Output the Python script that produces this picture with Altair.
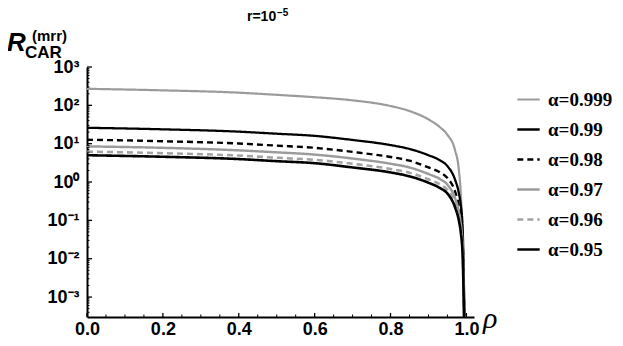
import altair as alt
import pandas as pd

# ---- data ----
rho = [0.0, 0.2, 0.4, 0.5, 0.6, 0.7, 0.8, 0.85, 0.9, 0.93, 0.95, 0.97, 0.98, 0.985, 0.99, 0.995]
r_a0999 = [270, 246, 214, 188, 163, 135, 96, 71, 43, 27, 17, 6.8, 2.1, 0.54, 0.027, 0.00027]
r_a099 = [26, 23.7, 20.6, 18.2, 16.0, 12.5, 9.2, 7.3, 5.0, 3.7, 2.6, 1.16, 0.52, 0.26, 0.065, 0.00026]
r_a098 = [12.7, 11.6, 10.1, 8.9, 7.8, 6.1, 4.5, 3.6, 2.4, 1.8, 1.27, 0.57, 0.25, 0.127, 0.032, 0.000127]
r_a097 = [8.5, 7.8, 6.7, 5.95, 5.2, 4.1, 3.0, 2.4, 1.62, 1.2, 0.85, 0.38, 0.17, 0.085, 0.021, 0.000085]
r_a096 = [6.2, 5.65, 4.9, 4.3, 3.8, 3.0, 2.2, 1.75, 1.18, 0.87, 0.62, 0.28, 0.124, 0.062, 0.0155, 0.000062]
r_a095 = [5.0, 4.56, 3.97, 3.5, 3.1, 2.4, 1.78, 1.41, 0.96, 0.70, 0.50, 0.22, 0.10, 0.05, 0.0125, 0.00005]

series_names = ["α=0.999", "α=0.99", "α=0.98", "α=0.97", "α=0.96", "α=0.95"]
series_values = [r_a0999, r_a099, r_a098, r_a097, r_a096, r_a095]
series_colors = ["#9b9b9b", "#000000", "#000000", "#9b9b9b", "#a3a3a3", "#000000"]
series_dash = [[1, 0], [1, 0], [6, 4], [1, 0], [6, 4], [1, 0]]
series_width = [2.2, 2.6, 2.6, 2.2, 2.2, 2.6]

x_major = [0.0, 0.2, 0.4, 0.6, 0.8, 1.0]
x_minor = [0.05, 0.1, 0.15, 0.25, 0.3, 0.35, 0.45, 0.5, 0.55, 0.65, 0.7, 0.75, 0.85, 0.9, 0.95]
y_major = [1e-3, 1e-2, 1e-1, 1, 10, 100, 1000]
y_labels = ["10⁻³", "10⁻²", "10⁻¹", "10⁰", "10¹", "10²", "10³"]
y_minor = [m * 10.0 ** k for k in range(-4, 3) for m in range(2, 10)]
y_minor = [v for v in y_minor if 10 ** -3.52 < v < 1000]

rows = []
for name, vals in zip(series_names, series_values):
    for x, v in zip(rho, vals):
        rows.append({"series": name, "rho": x, "R": v})
df = pd.DataFrame(rows)

xscale = alt.Scale(domain=[0, 1.02], nice=False, zero=False)
yscale = alt.Scale(type="log", domain=[10 ** -3.52, 1000], nice=False)

# label expression from lists
expr = "'" + y_labels[-1] + "'"
for v, lab in reversed(list(zip(y_major[:-1], y_labels[:-1]))):
    expr = f"datum.value < {v * 3} ? '{lab}' : " + expr

W, H = 387, 250
LBL_FONT = "Liberation Sans"
SERIF = "'Liberation Serif', 'DejaVu Serif', 'Times New Roman', serif"

legend = alt.Legend(
    title=None, orient="none", legendX=429, legendY=20,
    symbolType="stroke", symbolSize=500, symbolStrokeWidth=2.5,
    labelFont=SERIF, labelFontWeight="bold", labelFontSize=19,
    labelColor="black", rowPadding=7, labelOffset=7,
)

lines = alt.Chart(df).mark_line(clip=True, interpolate="monotone").encode(
    x=alt.X("rho:Q", scale=xscale, axis=alt.Axis(
        values=x_major, format=".1f", ticks=False, grid=False, title=None, labelFlush=False,
        domainColor="black", domainWidth=2, labelFont=LBL_FONT, labelFontWeight="bold",
        labelFontSize=18, labelColor="black", labelPadding=3)),
    y=alt.Y("R:Q", scale=yscale, axis=alt.Axis(
        values=y_major, labelExpr=expr, ticks=False, grid=False, title=None, labelFlush=False,
        domainColor="black", domainWidth=2, labelFont=LBL_FONT, labelFontWeight="bold",
        labelFontSize=18, labelColor="black", labelPadding=8)),
    color=alt.Color("series:N", scale=alt.Scale(domain=series_names, range=series_colors), legend=legend),
    strokeDash=alt.StrokeDash("series:N", scale=alt.Scale(domain=series_names, range=series_dash), legend=legend),
    strokeWidth=alt.StrokeWidth("series:N", scale=alt.Scale(domain=series_names, range=series_width), legend=legend),
)

xt_major = alt.Chart(pd.DataFrame({"rho": x_major})).mark_rule(color="black", strokeWidth=1.3).encode(
    x=alt.X("rho:Q", scale=xscale), y=alt.value(H), y2=alt.value(H - 4))
xt_minor = alt.Chart(pd.DataFrame({"rho": x_minor})).mark_rule(color="black", strokeWidth=1).encode(
    x=alt.X("rho:Q", scale=xscale), y=alt.value(H), y2=alt.value(H - 2.5))
yt_major = alt.Chart(pd.DataFrame({"R": y_major})).mark_rule(color="black", strokeWidth=1.3).encode(
    y=alt.Y("R:Q", scale=yscale), x=alt.value(0), x2=alt.value(5))
yt_minor = alt.Chart(pd.DataFrame({"R": y_minor})).mark_rule(color="black", strokeWidth=1).encode(
    y=alt.Y("R:Q", scale=yscale), x=alt.value(0), x2=alt.value(2.5))


def label(text, x, y, size, font=LBL_FONT, weight="bold", style="normal", align="left"):
    return alt.Chart(pd.DataFrame({"t": [text]})).mark_text(
        font=font, fontSize=size, fontWeight=weight, fontStyle=style, align=align,
        baseline="alphabetic", color="black"
    ).encode(x=alt.value(x), y=alt.value(y), text="t:N")


texts = [
    label("R", -80, -16.5, 26, style="italic"),
    label("CAR", -62, -9.5, 17),
    label("(mrr)", -55, -26.5, 15),
    label("r=10", 160, -46, 14),
    label("−5", 190, -51.5, 10),
    label("ρ", 396, 261, 30, font=SERIF, weight="normal", style="italic"),
]

chart = alt.layer(lines, xt_major, xt_minor, yt_major, yt_minor, *texts).properties(
    width=W, height=H,
    autosize=alt.AutoSizeParams(type="none"),
    padding={"left": 79, "top": 59, "right": 141, "bottom": 21},
).configure_view(stroke=None).configure_legend(
    labelFont=SERIF, labelFontWeight="bold", labelFontSize=19, labelColor="black"
)

chart.save("out.html", embed_options={"renderer": "svg", "actions": False})
